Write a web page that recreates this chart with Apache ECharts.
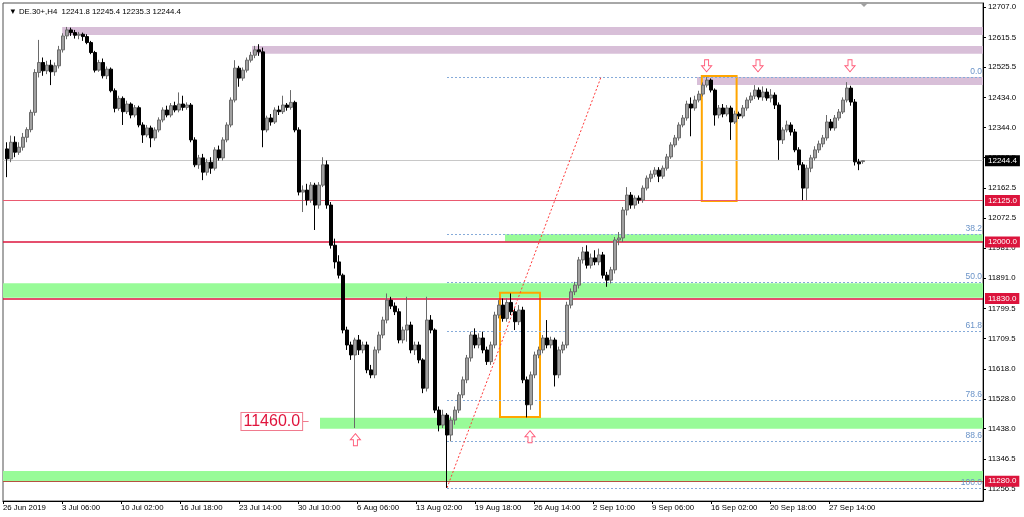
<!DOCTYPE html>
<html><head><meta charset="utf-8">
<script src="https://cdn.jsdelivr.net/npm/echarts@6/dist/echarts.min.js"></script>
<style>html,body{margin:0;padding:0;background:#fff}#c{width:1024px;height:517px}</style>
</head><body><div id="c"></div>
<script>
// ---------- data ----------
const headerText = '\u25BC DE.30+,H4  12241.8 12245.4 12235.3 12244.4';
const xTickLabels = ['26 Jun 2019','3 Jul 06:00','10 Jul 02:00','16 Jul 18:00','23 Jul 14:00','30 Jul 10:00','6 Aug 06:00','13 Aug 02:00','19 Aug 18:00','26 Aug 14:00','2 Sep 10:00','9 Sep 06:00','16 Sep 02:00','20 Sep 18:00','27 Sep 14:00'];
const yTickValues = [12707.0,12615.5,12525.5,12434.0,12344.0,12253.5,12162.5,12072.5,11981.0,11891.0,11799.5,11709.5,11618.0,11528.0,11438.0,11346.5,11256.5];
// [open, close, low, high]
const candles = [
[12280,12250,12195,12300],[12250,12300,12240,12320],[12300,12270,12255,12318],[12270,12285,12262,12300],[12285,12315,12275,12328],
[12315,12338,12300,12345],[12338,12390,12330,12398],[12390,12510,12380,12520],[12510,12540,12495,12608],[12540,12515,12500,12555],
[12515,12532,12505,12545],[12532,12512,12472,12548],[12512,12530,12500,12540],[12530,12578,12522,12590],[12578,12620,12570,12628],
[12620,12638,12610,12647],[12638,12630,12620,12645],[12630,12622,12612,12638],[12622,12625,12610,12632],[12625,12618,12605,12630],
[12618,12600,12595,12625],[12600,12570,12565,12605],[12570,12517,12510,12575],[12517,12540,12512,12548],[12540,12500,12492,12552],
[12500,12520,12490,12528],[12520,12455,12450,12525],[12455,12402,12390,12462],[12402,12432,12395,12440],[12432,12392,12352,12438],
[12392,12415,12385,12425],[12415,12382,12372,12420],[12382,12404,12375,12412],[12404,12352,12345,12410],[12352,12322,12298,12360],
[12322,12343,12315,12352],[12343,12313,12285,12350],[12313,12337,12305,12345],[12337,12367,12330,12375],[12367,12397,12360,12405],
[12397,12382,12375,12410],[12382,12410,12375,12418],[12410,12397,12390,12422],[12397,12415,12390,12450],[12415,12405,12395,12440],
[12405,12412,12398,12420],[12412,12307,12300,12418],[12307,12232,12225,12315],[12232,12253,12220,12262],[12253,12210,12186,12265],
[12210,12240,12200,12250],[12240,12222,12205,12255],[12222,12277,12215,12285],[12277,12253,12245,12290],[12253,12307,12245,12315],
[12307,12352,12300,12360],[12352,12427,12345,12435],[12427,12523,12420,12547],[12523,12493,12467,12530],[12493,12517,12485,12525],
[12517,12547,12510,12555],[12547,12562,12540,12572],[12562,12578,12553,12590],[12578,12572,12560,12595],[12572,12337,12285,12585],
[12337,12373,12330,12380],[12373,12361,12350,12385],[12361,12397,12355,12405],[12397,12392,12382,12410],[12392,12412,12385,12440],
[12412,12405,12395,12418],[12405,12420,12398,12457],[12420,12337,12330,12425],[12337,12150,12140,12345],[12150,12156,12090,12170],
[12156,12126,12110,12175],[12126,12171,12118,12180],[12171,12111,12036,12178],[12111,12171,12100,12180],[12171,12232,12165,12255],
[12232,12111,12100,12245],[12111,11990,11980,12120],[11990,11940,11920,12010],[11940,11900,11890,11960],[11900,11735,11725,11905],
[11735,11690,11675,11745],[11690,11660,11645,11700],[11660,11705,11440,11712],[11705,11675,11660,11720],[11675,11690,11665,11700],
[11690,11615,11605,11700],[11615,11600,11590,11630],[11600,11675,11590,11685],[11675,11720,11665,11730],[11720,11765,11710,11775],
[11765,11825,11755,11845],[11825,11807,11798,11835],[11807,11790,11780,11818],[11790,11705,11695,11800],[11705,11735,11695,11745],
[11735,11750,11700,11835],[11750,11675,11665,11760],[11675,11690,11660,11700],[11690,11645,11635,11700],[11645,11560,11545,11650],
[11560,11765,11550,11835],[11765,11735,11725,11780],[11735,11494,11485,11740],[11494,11449,11430,11505],[11449,11479,11440,11495],
[11479,11419,11260,11485],[11419,11464,11400,11475],[11464,11494,11450,11505],[11494,11540,11485,11548],[11540,11585,11530,11595],
[11585,11651,11575,11660],[11651,11720,11640,11730],[11720,11690,11680,11740],[11690,11711,11680,11725],[11711,11675,11665,11730],
[11675,11640,11630,11685],[11640,11690,11630,11700],[11690,11780,11680,11790],[11780,11810,11770,11825],[11810,11770,11760,11830],
[11770,11818,11760,11830],[11818,11790,11780,11845],[11790,11760,11735,11800],[11760,11795,11750,11810],[11795,11585,11575,11805],
[11585,11510,11472,11595],[11510,11600,11495,11610],[11600,11660,11590,11670],[11660,11675,11650,11685],[11675,11711,11665,11720],
[11711,11690,11680,11765],[11690,11705,11680,11715],[11705,11600,11565,11712],[11600,11675,11590,11685],[11675,11690,11665,11700],
[11690,11810,11680,11820],[11810,11850,11800,11860],[11850,11870,11840,11880],[11870,11946,11860,11955],[11946,11970,11935,11985],
[11970,11930,11920,11990],[11930,11952,11920,11965],[11952,11940,11930,11975],[11940,11961,11930,11980],[11961,11900,11890,11970],
[11900,11885,11865,11910],[11885,11916,11875,11925],[11916,12006,11905,12015],[12006,12012,11990,12030],[12012,12096,12000,12105],
[12096,12141,12080,12165],[12141,12111,12100,12150],[12111,12132,12100,12140],[12132,12126,12115,12140],[12126,12162,12118,12170],
[12162,12192,12155,12200],[12192,12204,12180,12215],[12204,12216,12195,12225],[12216,12198,12180,12225],[12198,12222,12190,12230],
[12222,12256,12215,12265],[12256,12292,12250,12300],[12292,12313,12285,12322],[12313,12352,12305,12360],[12352,12373,12345,12382],
[12373,12415,12365,12425],[12415,12403,12318,12435],[12403,12427,12395,12440],[12427,12445,12420,12455],[12445,12472,12438,12480],
[12472,12487,12465,12496],[12487,12457,12450,12492],[12457,12382,12350,12462],[12382,12403,12372,12412],[12403,12385,12375,12415],
[12385,12403,12378,12412],[12403,12361,12307,12410],[12361,12385,12355,12395],[12385,12379,12370,12392],[12379,12403,12372,12412],
[12403,12427,12395,12435],[12427,12439,12418,12450],[12439,12457,12430,12472],[12457,12436,12428,12465],[12436,12451,12425,12468],
[12451,12433,12425,12462],[12433,12442,12420,12460],[12442,12412,12400,12450],[12412,12307,12247,12420],[12307,12337,12295,12345],
[12337,12352,12330,12365],[12352,12331,12320,12360],[12331,12277,12270,12340],[12277,12232,12216,12285],[12232,12162,12126,12240],
[12162,12222,12126,12232],[12222,12253,12210,12262],[12253,12277,12245,12288],[12277,12295,12268,12305],[12295,12313,12285,12322],
[12313,12361,12305,12382],[12361,12343,12335,12370],[12343,12373,12335,12382],[12373,12391,12365,12400],[12391,12427,12385,12435],
[12427,12463,12420,12481],[12463,12421,12410,12470],[12421,12241,12230,12430],[12241,12235,12216,12250],[12241.8,12244.4,12235.3,12245.4]
];
const lastPrice = 12244.4;
const supplyZones = [{from:14.8, top:12647, bottom:12623},{from:62.25, top:12590, bottom:12566},{from:173.5, top:12496, bottom:12472}];
const demandZones = [{from:0, top:11876, bottom:11832},{from:125.5, top:12023, bottom:12001},{from:79.25, top:11471, bottom:11438},{from:0, top:11311, bottom:11281}];
const levels = [{price:12125, color:'#ea5a70', width:1},{price:12000, color:'#dc143c', width:1.5},{price:11830, color:'#dc143c', width:1.5},{price:11280, color:'#b4523f', width:1}];
const fibStart = 111, fibLow = 11260, fibHigh = 12496;
const fibRatios = [0, 38.2, 50, 61.8, 78.6, 88.6, 100];
const trendFrom = [111, 11260], trendTo = [149.5, 12496];
const boxes = [{x0:124.25, x1:134.25, top:11847, bottom:11473},{x0:174.7, x1:183.4, top:12499, bottom:12123}];
const downArrows = [[175.9, 12530],[188.75, 12530],[211.75, 12530]];
const upArrows = [[88.1, 11405],[131.75, 11414]];
const priceTag = {x:67.2, price:11460, stemFrom:74.9, stemTo:76.4};

// ---------- layout ----------
const X_MAX = 245, LABEL_STEP = 14.75;
const FONT = 'Liberation Sans';
const seriesData = candles.map((c, k) => [k + 1, c[0], c[1], c[2], c[3]]);
const xTickPos = xTickLabels.map((_, k) => k * LABEL_STEP);

const markAreaData = [];
supplyZones.forEach(z => markAreaData.push([{coord:[z.from, z.top], itemStyle:{color:'#d8bfd8'}}, {coord:[X_MAX, z.bottom]}]));
demandZones.forEach(z => markAreaData.push([{coord:[z.from, z.top], itemStyle:{color:'#98fb98'}}, {coord:[X_MAX, z.bottom]}]));
boxes.forEach(b => markAreaData.push([{coord:[b.x0, b.top], itemStyle:{color:'rgba(0,0,0,0)', borderColor:'#ffa500', borderWidth:2}}, {coord:[b.x1, b.bottom]}]));

const markLineData = [];
markLineData.push({yAxis:lastPrice, lineStyle:{color:'#c8c8c8', width:1, type:'solid'},
  label:{show:true, position:'end', distance:2, formatter:lastPrice.toFixed(1), color:'#fff', backgroundColor:'#000', padding:[2,3,1,3], fontSize:8, fontFamily:FONT}});
levels.forEach(l => markLineData.push({yAxis:l.price, lineStyle:{color:l.color, width:l.width, type:'solid'},
  label:{show:true, position:'end', distance:2, formatter:l.price.toFixed(1), color:'#fff', backgroundColor:'#dc143c', padding:[2,3,1,3], fontSize:8, fontFamily:FONT}}));
fibRatios.forEach(r => {
  const p = fibHigh - (fibHigh - fibLow) * r / 100;
  markLineData.push([{coord:[fibStart, p], lineStyle:{color:'#86abd9', width:1, type:[2,2]},
    label:{show:true, position:'insideEndTop', distance:1, formatter:r.toFixed(1), color:'#6a93c8', fontSize:8.5, fontFamily:FONT}}, {coord:[X_MAX, p]}]);
});
markLineData.push([{coord:trendFrom, lineStyle:{color:'#ff3b3b', width:1, type:[2,2]}, label:{show:false}}, {coord:trendTo}]);
markLineData.push([{coord:[priceTag.stemFrom, priceTag.price], lineStyle:{color:'#f07b8e', width:1, type:'solid'}, label:{show:false}}, {coord:[priceTag.stemTo, priceTag.price]}]);

const arrowStyle = {color:'#fff', borderColor:'#ff5a78', borderWidth:1};
const markPointData = [];
downArrows.forEach(a => markPointData.push({coord:a, symbol:'path://M3,0 H7 V6 H10 L5,12 L0,6 H3 Z', symbolSize:[10,12], itemStyle:arrowStyle, label:{show:false}}));
upArrows.forEach(a => markPointData.push({coord:a, symbol:'path://M5,0 L10,6 H7 V12 H3 V6 H0 Z', symbolSize:[10,12], itemStyle:arrowStyle, label:{show:false}}));
markPointData.push({coord:[priceTag.x, priceTag.price], symbol:'rect', symbolSize:0.1, itemStyle:{color:'rgba(0,0,0,0)'},
  label:{show:true, position:'inside', formatter:priceTag.price.toFixed(1), color:'#e0143c', fontSize:16, fontFamily:FONT,
    backgroundColor:'#fff', borderColor:'#f07b8e', borderWidth:1, padding:[1,2,0,2]}});

const chart = echarts.init(document.getElementById('c'), null, {renderer:'canvas'});
chart.setOption({
  animation:false,
  backgroundColor:'#fff',
  title:{text:headerText, left:4, top:3, textStyle:{fontSize:7.8, fontWeight:'normal', color:'#000', fontFamily:FONT}},
  grid:{left:3, right:41, top:3, bottom:16, show:true, borderColor:'#505050', borderWidth:1, backgroundColor:'#fff', outerBoundsMode:'none'},
  graphic:[{type:'polygon', shape:{points:[[859,2],[869,2],[864,7]]}, style:{fill:'#a0a0a0'}}],
  xAxis:{type:'value', min:0, max:X_MAX, splitLine:{show:false},
    axisLine:{show:true, onZero:false, lineStyle:{color:'#000'}},
    axisTick:{show:true, length:3, customValues:xTickPos, lineStyle:{color:'#000'}},
    axisLabel:{customValues:xTickPos, align:'left', margin:3, fontSize:7.8, color:'#000', fontFamily:FONT,
      formatter:v => xTickLabels[Math.round(v / LABEL_STEP)] || ''}},
  yAxis:{type:'value', position:'right', min:11220.5, max:12719.04, scale:true, splitLine:{show:false},
    axisLine:{show:true, onZero:false, lineStyle:{color:'#000'}},
    axisTick:{show:true, length:3, customValues:yTickValues, lineStyle:{color:'#000'}},
    axisLabel:{customValues:yTickValues, margin:5, fontSize:7.8, color:'#000', fontFamily:FONT, formatter:v => v.toFixed(1)}},
  series:[{
    type:'candlestick', z:2, barWidth:3,
    encode:{x:0, y:[1,2,3,4]},
    data:seriesData,
    itemStyle:{color:'#a0a0a0', color0:'#000', borderColor:'#6a6a6a', borderColor0:'#000', borderWidth:1},
    markArea:{silent:true, z:1, data:markAreaData},
    markLine:{silent:true, z:1.5, symbol:'none', animation:false, data:markLineData},
    markPoint:{silent:true, z:5, data:markPointData}
  }]
});
</script></body></html>
